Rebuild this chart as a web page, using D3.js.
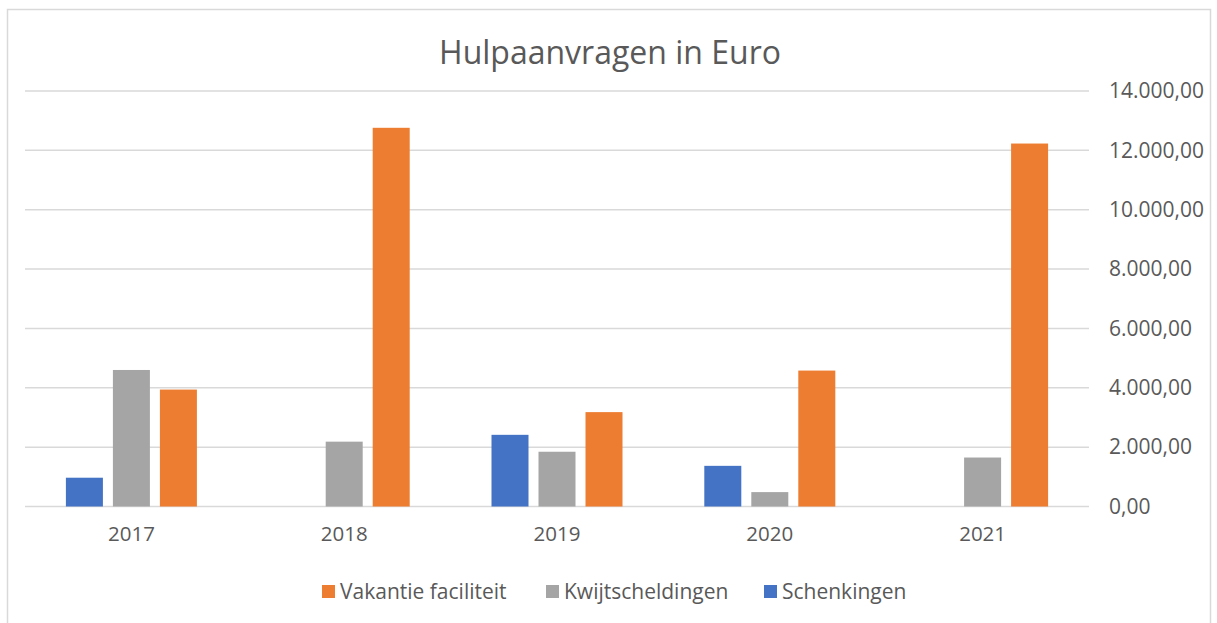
<!DOCTYPE html>
<html>
<head>
<meta charset="utf-8">
<script src="https://cdn.jsdelivr.net/npm/d3@7"></script>
<style>
  body { margin: 0; background: #fff; }
  text { font-family: "Open Sans", sans-serif; fill: #595959; }
</style>
</head>
<body>
<div class="viewbox"></div>
<script>
// chart data
const years = ["2017", "2018", "2019", "2020", "2021"];
const series = ["Schenkingen", "Kwijtscheldingen", "Vakantie faciliteit"];
const schenkingen = [970, 0, 2415, 1370, 0];
const kwijtscheldingen = [4600, 2185, 1845, 485, 1650];
const vakantie = [3940, 12760, 3180, 4580, 12230];
const yTicks = [0, 2000, 4000, 6000, 8000, 10000, 12000, 14000];
const legendOrder = ["Vakantie faciliteit", "Kwijtscheldingen", "Schenkingen"];

const svg_width = 1217;
const svg_height = 623;

const colors = {
  "Schenkingen": "#4472C4",
  "Kwijtscheldingen": "#A5A5A5",
  "Vakantie faciliteit": "#ED7D31"
};
const valuesBySeries = {
  "Schenkingen": schenkingen,
  "Kwijtscheldingen": kwijtscheldingen,
  "Vakantie faciliteit": vakantie
};

let svg = d3.select(".viewbox")
  .append("svg")
  .attr("width", svg_width)
  .attr("height", svg_height);

// outer frame (bottom runs off the picture)
svg.append("rect")
  .attr("x", 7.5).attr("y", 9.5)
  .attr("width", 1203).attr("height", 640)
  .attr("fill", "none")
  .attr("stroke", "#D9D9D9")
  .attr("stroke-width", 1.5);

svg.append("text")
  .attr("x", 610).attr("y", 64)
  .attr("text-anchor", "middle")
  .style("font-size", "32px")
  .text("Hulpaanvragen in Euro");

const plotLeft = 25, plotRight = 1089;

let x0 = d3.scaleBand()
  .domain(years)
  .range([plotLeft, plotRight]);

// three bars of 37px with 10px gaps, centred in each year band
let x1 = d3.scaleBand()
  .domain(series)
  .range([0, 131])
  .paddingInner(10 / 47);

let y = d3.scaleLinear()
  .domain([0, 14000])
  .range([506.5, 91]);

const fmt = d3.formatLocale({ decimal: ",", thousands: ".", grouping: [3], currency: ["€", ""] }).format(",.2f");

// gridlines
svg.append("g")
  .selectAll("line")
  .data(yTicks)
  .enter()
  .append("line")
  .attr("x1", plotLeft).attr("x2", plotRight)
  .attr("y1", d => y(d)).attr("y2", d => y(d))
  .attr("stroke", "#D9D9D9")
  .attr("stroke-width", 1.5);

// right-hand axis labels
let yAxis = svg.append("g")
  .attr("transform", "translate(1109,0)")
  .call(d3.axisRight(y).tickValues(yTicks).tickFormat(fmt).tickSize(0).tickPadding(0));
yAxis.select(".domain").remove();
yAxis.selectAll("text")
  .attr("text-anchor", "start")
  .style("font-size", "21px")
  .attr("fill", "#595959");

// year labels
let xAxis = svg.append("g")
  .attr("transform", "translate(0,526)")
  .call(d3.axisBottom(x0).tickSize(0).tickPadding(0));
xAxis.select(".domain").remove();
xAxis.selectAll("text")
  .style("font-size", "20.5px")
  .attr("fill", "#595959");

// bars
let groups = svg.append("g")
  .selectAll(".year")
  .data(years)
  .enter()
  .append("g")
  .attr("class", "year")
  .attr("transform", d => "translate(" + (x0(d) + x0.bandwidth() / 2 - 65.5) + ",0)");

groups.selectAll("rect")
  .data((d, i) => series.map(s => ({ key: s, value: valuesBySeries[s][i] })))
  .enter()
  .filter(d => d.value > 0)
  .append("rect")
  .attr("x", d => x1(d.key))
  .attr("width", x1.bandwidth())
  .attr("y", d => y(d.value))
  .attr("height", d => y(0) - y(d.value))
  .attr("fill", d => colors[d.key]);

// legend
const legendX = [322, 546, 764];
let legend = svg.append("g")
  .selectAll(".legend")
  .data(legendOrder)
  .enter()
  .append("g")
  .attr("class", "legend")
  .attr("transform", (d, i) => "translate(" + legendX[i] + ",585)");

legend.append("rect")
  .attr("width", 13).attr("height", 13)
  .attr("fill", d => colors[d]);

legend.append("text")
  .attr("x", 18).attr("y", 13.5)
  .style("font-size", "21px")
  .text(d => d);
</script>
</body>
</html>
